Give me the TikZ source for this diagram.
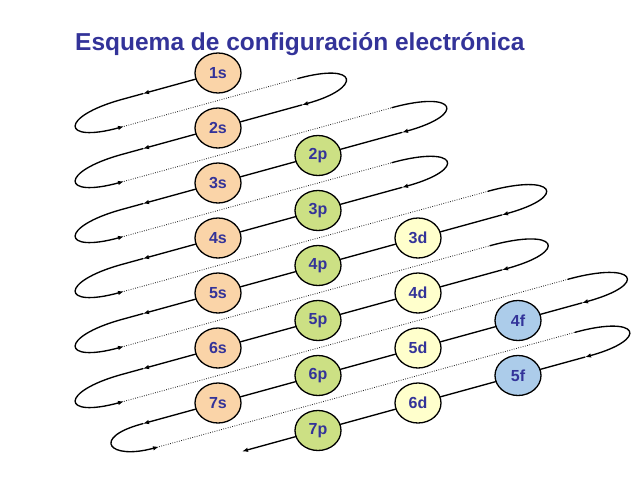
\documentclass[tikz,border=0pt]{standalone}
\usepackage{fontspec}
\setmainfont{Liberation Sans}
\usetikzlibrary{arrows.meta,shapes.geometric}
\definecolor{ttl}{RGB}{51,51,153}
\definecolor{sfill}{RGB}{250,212,168}
\definecolor{pfill}{RGB}{204,224,132}
\definecolor{dfill}{RGB}{255,255,204}
\definecolor{ffill}{RGB}{172,204,234}
\begin{document}
\begin{tikzpicture}[x=1pt,y=-1pt,
  orb/.style={ellipse,draw=black,line width=1.3pt,minimum width=46pt,minimum height=40pt,inner sep=0pt,font=\fontsize{16}{18}\selectfont\bfseries,text=ttl},
  sorb/.style={orb,fill=sfill},
  porb/.style={orb,fill=pfill},
  dorb/.style={orb,fill=dfill},
  forb/.style={orb,fill=ffill},
  wire/.style={line width=1.35pt,line cap=round},
  tipwire/.style={wire,-{Latex[length=6pt,width=4.5pt]}},
  dots/.style={line width=0.85pt,dash pattern=on 0.8pt off 1.5pt,draw=black!85}]
\useasboundingbox (0,0) rectangle (638,479);
\node[anchor=base west,inner sep=0pt,font=\fontsize{24.5}{28}\selectfont\bfseries,text=ttl] (title) at (75,50) {Esquema de configuración electrónica};
% s column
\node[sorb] (1s) at (218,73) {1s};
\node[sorb] (2s) at (218,128) {2s};
\node[sorb] (3s) at (218,183) {3s};
\node[sorb] (4s) at (218,238) {4s};
\node[sorb] (5s) at (218,293) {5s};
\node[sorb] (6s) at (218,348) {6s};
\node[sorb] (7s) at (218,403) {7s};
% p column
\node[porb] (2p) at (318,155.5) {2p};
\node[porb] (3p) at (318,210.5) {3p};
\node[porb] (4p) at (318,265.5) {4p};
\node[porb] (5p) at (318,320.5) {5p};
\node[porb] (6p) at (318,375.5) {6p};
\node[porb] (7p) at (318,430.5) {7p};
% d column
\node[dorb] (3d) at (418,238) {3d};
\node[dorb] (4d) at (418,293) {4d};
\node[dorb] (5d) at (418,348) {5d};
\node[dorb] (6d) at (418,403) {6d};
% f column
\node[forb] (4f) at (518,320.5) {4f};
\node[forb] (5f) at (518,375.5) {5f};
% left loop coordinates
\foreach \k in {1,...,6} {
  \coordinate (M\k) at (143,{73+55*(\k-1)+0.275*75});
  \coordinate (D\k) at (122,{73+55*(\k-1)+0.275*96});
  \coordinate (E\k) at (124,{100.5+55*(\k-1)+0.275*94});
}
\coordinate (M7) at (143,{403+0.275*75});
\coordinate (D7) at (141,{403+0.275*77});
\coordinate (E7) at (159,{430.5+0.275*59});
\coordinate (End) at (242,{458-0.275*24});
% left loops
\foreach \k in {1,...,6} {
  \draw[tipwire] (M\k) -- (D\k) .. controls +(-63,17.3) and +(-63,17.3) .. (E\k);
}
\draw[tipwire] (M7) -- (D7) .. controls +(-50,13.75) and +(-50,13.75) .. (E7);
% right loops and dotted returns
\foreach \k/\xd/\xc/\L in {1/298/302/61,2/392/402/65,3/392/402/66,4/488/502/67,5/490/502/68,6/568/582/68,7/575/585/65} {
  \pgfmathtruncatemacro\kn{\k+1}
  \coordinate (A\k) at (\xd,{100.5+55*(\k-1)-0.275*(\xd-218)});
  \coordinate (C\kn) at (\xc,{73+55*\k-0.275*(\xc-218)});
  \draw[dots] (E\k) -- (A\k);
  \draw[tipwire] (A\k) .. controls +(\L,{-0.275*\L}) and +(\L,{-0.275*\L}) .. (C\kn);
}
% diagonals through the orbitals
\draw[tipwire] (1s) -- (M1);
\draw[wire] (C2) -- (2s);
\draw[tipwire] (2s) -- (M2);
\draw[wire] (C3) -- (2p) (2p) -- (3s);
\draw[tipwire] (3s) -- (M3);
\draw[wire] (C4) -- (3p) (3p) -- (4s);
\draw[tipwire] (4s) -- (M4);
\draw[wire] (C5) -- (3d) (3d) -- (4p) (4p) -- (5s);
\draw[tipwire] (5s) -- (M5);
\draw[wire] (C6) -- (4d) (4d) -- (5p) (5p) -- (6s);
\draw[tipwire] (6s) -- (M6);
\draw[wire] (C7) -- (4f) (4f) -- (5d) (5d) -- (6p) (6p) -- (7s);
\draw[tipwire] (7s) -- (M7);
\draw[wire] (C8) -- (5f) (5f) -- (6d) (6d) -- (7p);
\draw[tipwire] (7p) -- (End);
\end{tikzpicture}
\end{document}
